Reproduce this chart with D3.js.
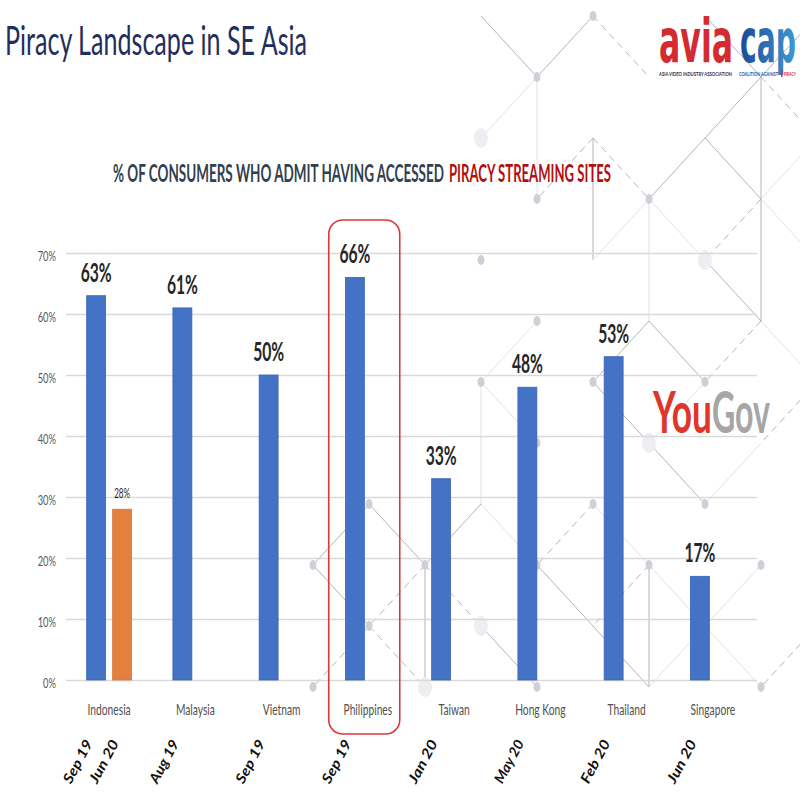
<!DOCTYPE html>
<html>
<head>
<meta charset="utf-8">
<script src="https://cdn.jsdelivr.net/npm/d3@7"></script>
<style>
  body { margin: 0; background: #ffffff; }
  text { font-family: Lato, "Open Sans", sans-serif; }
</style>
</head>
<body>
<div class="home"></div>
<script>
// chart values
const countries = ["Indonesia", "Malaysia", "Vietnam", "Philippines", "Taiwan", "Hong Kong", "Thailand", "Singapore"];
const firstWave = [0.63, 0.61, 0.50, 0.66, 0.33, 0.48, 0.53, 0.17];
const secondWave = [0.28, null, null, null, null, null, null, null];
const firstDates = ["Sep 19", "Aug 19", "Sep 19", "Sep 19", "Jan 20", "May 20", "Feb 20", "Jun 20"];
const secondDates = ["Jun 20", null, null, null, null, null, null, null];
const yTicks = [0, 0.1, 0.2, 0.3, 0.4, 0.5, 0.6, 0.7];
const highlighted = "Philippines";

const width = 800;
const height = 800;

// the slide was squashed sideways, so text gets narrowed to match
function squeeze(sel, k) {
  sel.each(function () {
    const w = this.getComputedTextLength();
    if (w > 0) {
      this.setAttribute("textLength", w * k);
      this.setAttribute("lengthAdjust", "spacingAndGlyphs");
    }
  });
}
function fit(sel, w) {
  sel.attr("textLength", w).attr("lengthAdjust", "spacingAndGlyphs");
}

const svg = d3.select(".home").append("svg")
  .attr("width", width)
  .attr("height", height);

//background network decoration
const deco = svg.append("g").attr("class", "deco");
const nodes = [];
for (let i = -4; i <= 6; i++) {
  for (let j = 0; j <= 11; j++) {
    if ((i + j) % 2) continue;
    const px = 481 + 56 * i, py = 16 + 61 * j;
    if (px < 470 && (py < 470 || px < 300)) continue;
    nodes.push({ i, j, px, py });
  }
}
const nodeKey = new Map(nodes.map(n => [n.i + "," + n.j, n]));
const dirs = [[1, 1], [-1, 1], [0, 2]];
const mix = (a, b, c) => (((a * 73 + b * 151 + c * 37 + a * b * 11) % 97) + 97) % 97;
nodes.forEach(n => {
  dirs.forEach((d, k) => {
    const m = nodeKey.get((n.i + d[0]) + "," + (n.j + d[1]));
    if (!m) return;
    const h = mix(n.i + 10, n.j, k) % 10;
    // verticals: only a few; diagonals: solid, dashed or faint
    let kind = null;
    if (k == 2) kind = h < 2 ? "solid" : (h == 2 ? "faint" : null);
    else kind = h < 3 ? "solid" : (h < 5 ? "dashed" : (h < 7 ? "faint" : null));
    if (!kind) return;
    deco.append("line")
      .attr("x1", n.px).attr("y1", n.py)
      .attr("x2", m.px).attr("y2", m.py)
      .style("stroke", kind == "faint" ? "#e2e2e7" : "#b4b4bd")
      .style("stroke-width", 1)
      .style("stroke-dasharray", kind == "dashed" ? "7 5" : null);
  });
});
nodes.forEach(n => {
  const h = mix(n.j + 3, n.i + 10, 5) % 8;
  if (h > 4) return;
  deco.append("ellipse")
    .attr("cx", n.px).attr("cy", n.py)
    .attr("rx", h == 0 ? 7 : 3.5)
    .attr("ry", h == 0 ? 10 : 5)
    .style("fill", h == 0 ? "#eeeef2" : "#cfcfda");
});

//scales
const x = d3.scaleBand()
  .domain(countries)
  .range([66, 756])
  .padding(0);
const xSub = d3.scaleBand()
  .domain(["first", "second"])
  .range([0, x.bandwidth()])
  .paddingInner(0.27)
  .paddingOuter(0.795);
const y = d3.scaleLinear()
  .domain([0, 0.7])
  .range([680, 253]);

// gridlines + y labels
const yAxis = svg.append("g")
  .attr("transform", "translate(66,0)")
  .call(d3.axisLeft(y)
    .tickValues(yTicks)
    .tickSize(-691)
    .tickPadding(10)
    .tickFormat(d3.format(".0%")));
yAxis.select(".domain").remove();
yAxis.selectAll("line").style("stroke", "#d9d9d9").style("stroke-width", 1.5);
yAxis.selectAll("text")
  .attr("dy", "0.55em")
  .style("font-size", "13px")
  .style("fill", "#595959")
  .style("font-family", "Lato, sans-serif");
squeeze(yAxis.selectAll("text"), 0.72);

// rows for the bars
const rows = countries.map((c, i) => ({
  country: c,
  first: firstWave[i],
  second: secondWave[i],
  firstDate: firstDates[i],
  secondDate: secondDates[i]
}));
const bars = [];
rows.forEach(r => {
  bars.push({ country: r.country, series: "first", value: r.first, date: r.firstDate });
  if (r.second != null) bars.push({ country: r.country, series: "second", value: r.second, date: r.secondDate });
});
const color = { first: "#4472c4", second: "#e3803f" };
const cx = d => x(d.country) + xSub(d.series) + xSub.bandwidth() / 2;

svg.append("g").selectAll("rect")
  .data(bars)
  .enter()
  .append("rect")
  .attr("x", d => x(d.country) + xSub(d.series))
  .attr("y", d => y(d.value))
  .attr("width", xSub.bandwidth())
  .attr("height", d => y(0) - y(d.value))
  .style("fill", d => color[d.series])
  .style("stroke", d => d.series == "first" ? "#3d66b5" : "#d9773a")
  .style("stroke-width", 0.8);

// value labels
const vl = svg.append("g").selectAll("text")
  .data(bars)
  .enter()
  .append("text")
  .attr("x", cx)
  .attr("y", d => y(d.value) - (d.series == "first" ? 14 : 11))
  .style("text-anchor", "middle")
  .style("font-size", d => d.series == "first" ? "27px" : "14px")
  .style("font-weight", d => d.series == "first" ? "bold" : "normal")
  .style("fill", "#262626")
  .text(d => d3.format(".0%")(d.value));
squeeze(vl, 0.58);

// category labels
const cl = svg.append("g").selectAll("text")
  .data(countries)
  .enter()
  .append("text")
  .attr("x", d => x(d) + x.bandwidth() / 2)
  .attr("y", 715)
  .style("text-anchor", "middle")
  .style("font-size", "16px")
  .style("fill", "#505050")
  .text(d => d);
squeeze(cl, 0.64);

// survey dates, rotated
svg.append("g").selectAll("text")
  .data(bars)
  .enter()
  .append("text")
  .attr("transform", d => "translate(" + (cx(d) - 3) + ",743) rotate(-62)")
  .style("text-anchor", "end")
  .style("font-size", "14px")
  .style("font-weight", "bold")
  .style("font-style", "italic")
  .style("fill", "#111111")
  .text(d => d.date)
  .call(fit, 47);

// highlight box
svg.append("rect")
  .attr("x", x(highlighted) + 4)
  .attr("y", y(0.7) - 33)
  .attr("width", 71)
  .attr("height", y(0) + 54 - (y(0.7) - 33))
  .attr("rx", 14)
  .style("fill", "none")
  .style("stroke", "#d83a3a")
  .style("stroke-width", 1.6);

// titles
svg.append("text")
  .attr("x", 5)
  .attr("y", 55)
  .style("font-size", "40px")
  .style("fill", "#1f2f5e")
  .text("Piracy Landscape in SE Asia")
  .call(fit, 302);

svg.append("text")
  .attr("x", 113)
  .attr("y", 182)
  .style("font-size", "25px")
  .style("font-weight", "bold")
  .style("fill", "#323f4f")
  .text("% OF CONSUMERS WHO ADMIT HAVING ACCESSED")
  .call(fit, 331);
svg.append("text")
  .attr("x", 449)
  .attr("y", 182)
  .style("font-size", "25px")
  .style("font-weight", "bold")
  .style("fill", "#b01010")
  .text("PIRACY STREAMING SITES")
  .call(fit, 162);

// avia cap logo
const defs = svg.append("defs");
const grad = defs.append("linearGradient").attr("id", "capGrad");
grad.append("stop").attr("offset", "0%").attr("stop-color", "#1b4a98");
grad.append("stop").attr("offset", "100%").attr("stop-color", "#3f98d4");
svg.append("text")
  .attr("x", 659).attr("y", 62)
  .style("font-family", "'DejaVu Sans', sans-serif")
  .style("font-size", "60px")
  .style("font-weight", "bold")
  .style("fill", "#d42b30")
  .text("avia")
  .call(fit, 74);
svg.append("text")
  .attr("x", 740).attr("y", 62)
  .style("font-family", "'DejaVu Sans', sans-serif")
  .style("font-size", "60px")
  .style("font-weight", "bold")
  .style("fill", "url(#capGrad)")
  .text("cap")
  .call(fit, 56);
svg.append("text")
  .attr("x", 659).attr("y", 76)
  .style("font-size", "6px")
  .style("font-weight", "bold")
  .style("fill", "#1c2d5c")
  .text("ASIA VIDEO INDUSTRY ASSOCIATION")
  .call(fit, 73);
svg.append("text")
  .attr("x", 739).attr("y", 76)
  .style("font-size", "6px")
  .style("font-weight", "bold")
  .style("fill", "#1f4e9c")
  .text("COALITION AGAINST")
  .call(fit, 39);
svg.append("rect")
  .attr("x", 781).attr("y", 70).attr("width", 1.5).attr("height", 7)
  .style("fill", "#d42b30");
svg.append("text")
  .attr("x", 784).attr("y", 76)
  .style("font-size", "6px")
  .style("font-weight", "bold")
  .style("fill", "#d42b30")
  .text("PIRACY")
  .call(fit, 12);

// YouGov logo
svg.append("text")
  .attr("x", 653).attr("y", 433)
  .style("font-size", "58px")
  .style("font-weight", "bold")
  .style("fill", "#e0352b")
  .text("You")
  .call(fit, 59);
svg.append("text")
  .attr("x", 712).attr("y", 433)
  .style("font-size", "58px")
  .style("font-weight", "bold")
  .style("fill", "#a6a6a6")
  .text("Gov")
  .call(fit, 58);
</script>
</body>
</html>
